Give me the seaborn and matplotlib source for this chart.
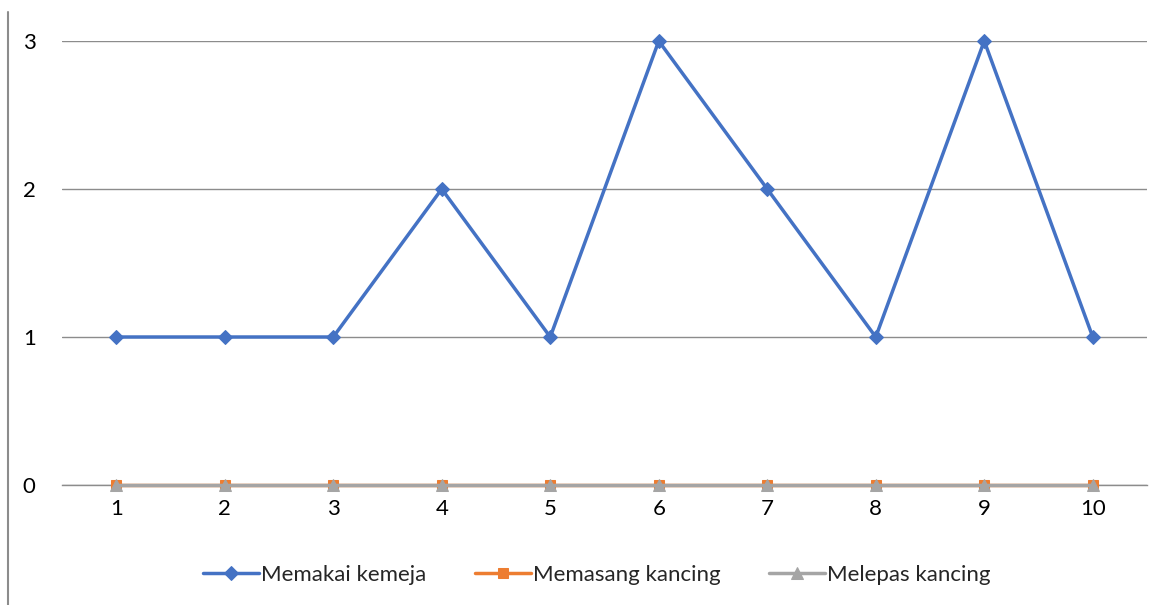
import matplotlib
matplotlib.use("Agg")
import matplotlib.pyplot as plt
import seaborn as sns
import pandas as pd
from matplotlib.lines import Line2D

categories = [1, 2, 3, 4, 5, 6, 7, 8, 9, 10]
tick_labels = ["1", "2", "3", "4", "5", "6", "7", "8", "9", "10"]
memakai_kemeja = [1, 1, 1, 2, 1, 3, 2, 1, 3, 1]
memasang_kancing = [0, 0, 0, 0, 0, 0, 0, 0, 0, 0]
melepas_kancing = [0, 0, 0, 0, 0, 0, 0, 0, 0, 0]
series_names = ["Memakai kemeja", "Memasang kancing", "Melepas kancing"]

sns.set_style("white")
plt.rcParams['font.family'] = ['Lato', 'DejaVu Sans']

fig = plt.figure(figsize=(11.65, 6.05), dpi=100)
ax = fig.add_axes([62/1165, 1-485/605, (1147-62)/1165, (485-41)/605])

colors = ["#4472C4", "#ED7D31", "#A5A5A5"]
markers = ["D", "s", "^"]
msizes = [7.5, 7.5, 8.5]
all_vals = [memakai_kemeja, memasang_kancing, melepas_kancing]

for name, vals, c, m, ms, z in zip(series_names, all_vals, colors, markers, msizes, [5, 3, 4]):
    df = pd.DataFrame({"x": categories, "y": vals})
    sns.lineplot(data=df, x="x", y="y", ax=ax, color=c, marker=m, markersize=ms,
                 markeredgecolor=c, linewidth=2.5, label=name, zorder=z, clip_on=False)

ax.set_xlim(0.5, 10.5)
ax.set_ylim(0, 3)
ax.set_yticks([0, 1, 2, 3])
ax.set_yticklabels(["0", "1", "2", "3"])
ax.set_xticks(categories)
ax.set_xticklabels(tick_labels)
ax.set_xlabel("")
ax.set_ylabel("")
ax.grid(axis="y", color="#8C8C8C", linewidth=1)
ax.set_axisbelow(True)
for s in ["top", "right", "left"]:
    ax.spines[s].set_visible(False)
ax.spines["bottom"].set_color("#8C8C8C")
ax.spines["bottom"].set_linewidth(1)
ax.tick_params(axis="both", length=0, labelsize=16, colors="black")
ax.tick_params(axis="y", pad=19)
ax.tick_params(axis="x", pad=10)

ax.legend(loc="center", bbox_to_anchor=(597/1165, 1-575/605), bbox_transform=fig.transFigure,
          ncol=3, frameon=False, fontsize=16, handlelength=2.5, handletextpad=0.1,
          columnspacing=2.2)

fig.add_artist(Line2D([8/1165, 8/1165], [0, 1-12/605], transform=fig.transFigure,
                      color="#8C8C8C", linewidth=1.5))

fig.savefig("out.png", dpi=100)
